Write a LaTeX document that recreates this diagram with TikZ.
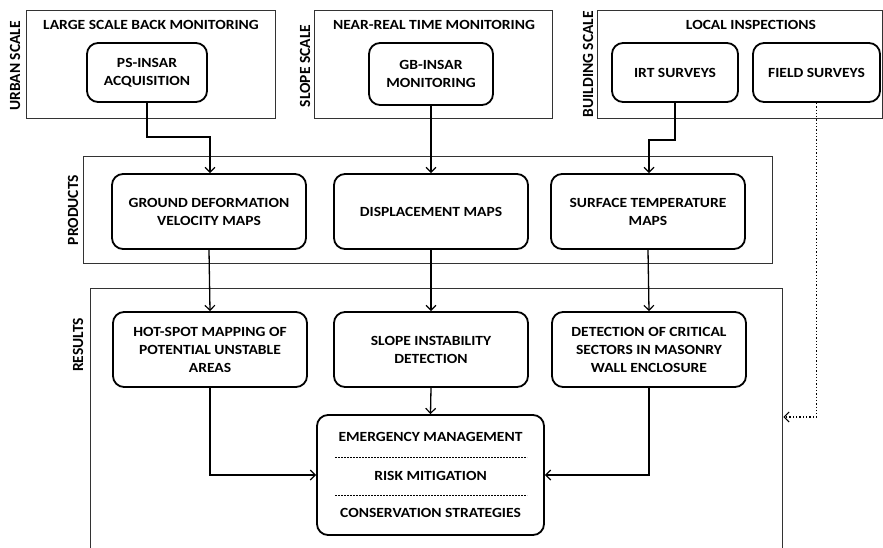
\documentclass[tikz,border=0pt]{standalone}
\usepackage{fontspec}
\setmainfont{Carlito}[FakeStretch=1.11]
\newfontfamily\vfont{Carlito}
\usetikzlibrary{arrows.meta}
\begin{document}
\begin{tikzpicture}[x=1pt,y=-1pt,
  every node/.style={font=\fontsize{14}{18}\selectfont\bfseries},
  frame/.style={draw=black!80,line width=0.9pt},
  rbox/.style={draw,line width=1.8pt,rounded corners=11pt,align=center,inner sep=0pt},
  vlabel/.style={rotate=90,anchor=center,font=\vfont\fontsize{15.5}{18}\selectfont\bfseries},
  conn/.style={line width=1.3pt},
  arr/.style={conn,-{Straight Barb[length=5pt,width=10pt,line width=1.2pt]}},
  dotarr/.style={line width=1.3pt,dotted,-{Straight Barb[length=5pt,width=10pt,line width=1.2pt,sep]}}]
\useasboundingbox (0,0) rectangle (883,547);
% top frames
\draw[frame] (26,10) rectangle (275,118);
\draw[frame] (314,10) rectangle (552,118);
\draw[frame] (597,10) rectangle (882,118);
\node (t1) at (151,25) {LARGE SCALE BACK MONITORING};
\node (t2) at (434,25) {NEAR-REAL TIME MONITORING};
\node (t3) at (751,25) {LOCAL INSPECTIONS};
\node[vlabel] (l1) at (15,66) {URBAN SCALE};
\node[vlabel] (l2) at (305,66) {SLOPE SCALE};
\node[vlabel] (l3) at (588,64) {BUILDING SCALE};
\node[rbox,minimum width=120pt,minimum height=59pt] (ps) at (147,72.5) {PS-INSAR\\ACQUISITION};
\node[rbox,minimum width=124pt,minimum height=62pt] (gb) at (431,74) {GB-INSAR\\MONITORING};
\node[rbox,minimum width=126pt,minimum height=59pt] (irt) at (675,72.5) {IRT SURVEYS};
\node[rbox,minimum width=127pt,minimum height=59pt] (fs) at (816.5,72.5) {FIELD SURVEYS};
% products
\draw[frame] (83,156) rectangle (772,263);
\node[vlabel] (lp) at (73,210) {PRODUCTS};
\node[rbox,minimum width=194pt,minimum height=75pt] (gd) at (209,211.5) {GROUND DEFORMATION\\VELOCITY MAPS};
\node[rbox,minimum width=194pt,minimum height=75pt] (dm) at (431,211.5) {DISPLACEMENT MAPS};
\node[rbox,minimum width=194pt,minimum height=75pt] (st) at (648,211.5) {SURFACE TEMPERATURE\\MAPS};
% results
\draw[frame] (90,560) -- (90,288) -- (782,288) -- (782,560);
\node[vlabel] (lr) at (78,345) {RESULTS};
\node[rbox,minimum width=194pt,minimum height=75pt] (hs) at (210,349.5) {HOT-SPOT MAPPING OF\\POTENTIAL UNSTABLE\\AREAS};
\node[rbox,minimum width=194pt,minimum height=75pt] (si) at (431,349.5) {SLOPE INSTABILITY\\DETECTION};
\node[rbox,minimum width=194pt,minimum height=75pt] (dc) at (649,349.5) {DETECTION OF CRITICAL\\SECTORS IN MASONRY\\WALL ENCLOSURE};
\node[rbox,minimum width=227pt,minimum height=120pt] (em) at (430.5,475) {};
\node (e1) at (430.5,437) {EMERGENCY MANAGEMENT};
\node (e2) at (430.5,476) {RISK MITIGATION};
\node (e3) at (430.5,513) {CONSERVATION STRATEGIES};
\coordinate (d1a) at (335,457); \coordinate (d1b) at (527,457);
\coordinate (d2a) at (335,495); \coordinate (d2b) at (527,495);
\draw[line width=0.8pt,dash pattern=on 2pt off 1pt] (d1a) -- (d1b);
\draw[line width=0.8pt,dash pattern=on 2pt off 1pt] (d2a) -- (d2b);
% connectors
\draw[arr] (ps.south) |- (210,137) -- (gd.north -| 210,0);
\draw[arr] (gb.south) -- (dm.north);
\draw[arr] (irt.south) |- (649,140) -- (st.north -| 649,0);
\draw[arr] (gd.south) -- (hs.north);
\draw[arr] (dm.south) -- (si.north);
\draw[arr] (st.south) -- (dc.north);
\draw[arr] (si.south) -- (em.north);
\draw[arr] (hs.south) |- (em.west);
\draw[arr] (dc.south) |- (em.east);
\coordinate (fr) at (782,417);
\draw[dotarr] (fs.south) |- (fr);
\end{tikzpicture}
\end{document}
